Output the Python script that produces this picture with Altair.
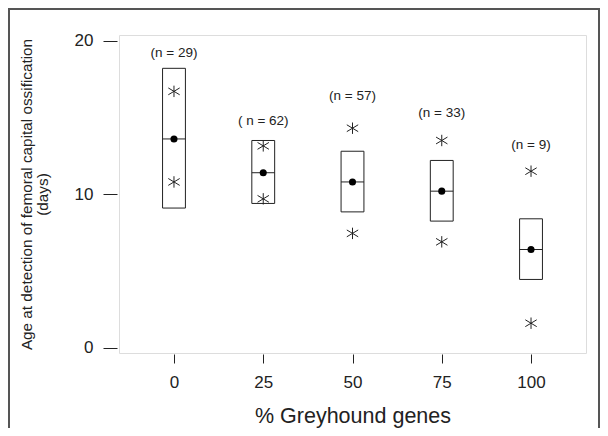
import altair as alt
import pandas as pd

# Data
groups = [0, 25, 50, 75, 100]
n_labels = ["(n = 29)", "( n = 62)", "(n = 57)", "(n = 33)", "(n = 9)"]
label_y = [19.2, 14.8, 16.4, 15.3, 13.2]
box_low = [9.1, 9.4, 8.85, 8.25, 4.45]
box_high = [18.2, 13.5, 12.8, 12.2, 8.4]
median = [13.6, 11.4, 10.8, 10.2, 6.4]
star_high = [16.7, 13.15, 14.3, 13.5, 11.5]
star_low = [10.8, 9.7, 7.45, 6.9, 1.6]

x_ticks = [0, 25, 50, 75, 100]
y_ticks = [0, 10, 20]

FONT = "Liberation Sans"
INK = "#222222"

df = pd.DataFrame({
    "g": groups, "label": n_labels, "ly": label_y,
    "lo": box_low, "hi": box_high, "med": median,
})
stars = pd.DataFrame({
    "g": groups + groups,
    "v": star_high + star_low,
})

xscale = alt.Scale(domain=[-15.4, 115.4], nice=False, zero=False)
yscale = alt.Scale(domain=[-0.34, 20.37], nice=False, zero=False)
xaxis = alt.Axis(values=x_ticks, title="% Greyhound genes", grid=False, domain=False,
                 tickSize=9, offset=1, labelPadding=11, labelFontSize=17,
                 titleFontSize=21.5, titlePadding=15, labelFont=FONT, titleFont=FONT,
                 titleFontWeight="normal", tickColor=INK, labelColor=INK, titleColor=INK)
yaxis = alt.Axis(values=y_ticks, title=["Age at detection of femoral capital ossification", "(days)"],
                 grid=False, domain=False, tickSize=14, offset=2, labelPadding=10,
                 labelFontSize=17, titleFontSize=15.3, titlePadding=24, labelFont=FONT,
                 titleFont=FONT, titleFontWeight="normal", tickColor=INK, labelColor=INK,
                 titleColor=INK, titleLineHeight=16)

base = alt.Chart(df)

boxes = base.mark_rect(fill="white", stroke=INK, strokeWidth=1).transform_calculate(
    x1="datum.g - 3.2", x2="datum.g + 3.2"
).encode(
    x=alt.X("x1:Q", scale=xscale, axis=xaxis),
    x2="x2:Q",
    y=alt.Y("lo:Q", scale=yscale, axis=yaxis),
    y2="hi:Q",
)

med_line = base.mark_rule(color=INK, strokeWidth=1).transform_calculate(
    x1="datum.g - 3.2", x2="datum.g + 3.2"
).encode(
    x=alt.X("x1:Q", scale=xscale, axis=xaxis),
    x2="x2:Q",
    y=alt.Y("med:Q", scale=yscale, axis=yaxis),
)

dots = base.mark_point(shape="circle", filled=True, color="black", size=50, opacity=1).encode(
    x=alt.X("g:Q", scale=xscale, axis=xaxis),
    y=alt.Y("med:Q", scale=yscale, axis=yaxis),
)

star_pts = alt.Chart(stars).mark_point(
    shape="M-1,-0.6L1,0.6M-1,0.6L1,-0.6M0,-1L0,1",
    filled=False, stroke=INK, strokeWidth=1, size=130, opacity=1,
).encode(
    x=alt.X("g:Q", scale=xscale, axis=xaxis),
    y=alt.Y("v:Q", scale=yscale, axis=yaxis),
)

labels = base.mark_text(fontSize=13.5, font=FONT, color=INK, baseline="middle").encode(
    x=alt.X("g:Q", scale=xscale, axis=xaxis),
    y=alt.Y("ly:Q", scale=yscale, axis=yaxis),
    text="label:N",
)

border = alt.Chart(pd.DataFrame({"k": [1]})).mark_rect(
    fill=None, stroke="#555555", strokeWidth=2
).encode(
    x=alt.value(-110), x2=alt.value(480), y=alt.value(-26), y2=alt.value(500)
)

chart = alt.layer(border, boxes, med_line, dots, star_pts, labels).properties(
    width=467, height=318,
    autosize=alt.AutoSizeParams(type="none"),
    padding={"left": 111, "top": 27, "right": 14, "bottom": 75},
).configure_view(stroke=INK, strokeWidth=1).configure(background="white")

chart.save("out.html", embed_options={"renderer": "svg", "actions": False})
